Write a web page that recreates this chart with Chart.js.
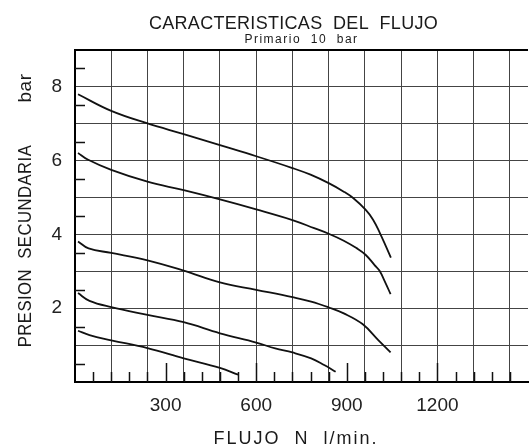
<!DOCTYPE html>
<html>
<head>
<meta charset="utf-8">
<script src="https://cdn.jsdelivr.net/npm/chart.js@4"></script>
<style>
  html, body { margin: 0; padding: 0; background: #fff; overflow: hidden; }
  #wrap { width: 540px; height: 448px; position: relative; }
</style>
</head>
<body>
<div id="wrap"><canvas id="chart"></canvas></div>
<script>
// Caudal (l/min) y presión secundaria (bar), una curva por ajuste
const flow1 = [10, 120, 240, 360, 480, 600, 720, 780, 840, 890, 922, 962, 987, 1010, 1030, 1046];
const pres1 = [7.80, 7.35, 7.01, 6.72, 6.42, 6.12, 5.80, 5.62, 5.39, 5.16, 4.98, 4.67, 4.40, 4.03, 3.67, 3.37];

const flow2 = [10, 42, 120, 240, 360, 480, 600, 720, 792, 840, 890, 932, 962, 992, 1008, 1028, 1045];
const pres2 = [6.21, 6.03, 5.75, 5.43, 5.20, 4.95, 4.68, 4.39, 4.17, 4.02, 3.83, 3.63, 3.45, 3.17, 3.02, 2.69, 2.38];

const flow3 = [10, 45, 120, 240, 360, 480, 600, 720, 782, 841, 890, 952, 1005, 1045];
const pres3 = [3.81, 3.62, 3.50, 3.30, 3.02, 2.70, 2.50, 2.30, 2.18, 2.02, 1.86, 1.57, 1.13, 0.80];

const flow4 = [10, 48, 120, 240, 360, 480, 600, 663, 720, 782, 825, 863];
const pres4 = [2.41, 2.20, 2.03, 1.82, 1.62, 1.32, 1.07, 0.91, 0.80, 0.64, 0.46, 0.28];

const flow5 = [10, 48, 120, 240, 360, 480, 540];
const pres5 = [1.39, 1.27, 1.13, 0.92, 0.64, 0.38, 0.20];

const xTickLabels = [300, 600, 900, 1200];
const yTickLabels = [2, 4, 6, 8];

const curves = [[flow1, pres1], [flow2, pres2], [flow3, pres3], [flow4, pres4], [flow5, pres5]]
  .map(([f, p]) => f.map((v, i) => ({ x: v, y: p[i] })));

const FONT = 'Liberation Sans, Arial, sans-serif';

// marcas interiores de los ejes y textos (título, subtítulo, títulos de ejes)
const frame = {
  id: 'frame',
  afterDraw(chart) {
    const { ctx, chartArea: a, scales: { x, y } } = chart;
    ctx.save();
    ctx.strokeStyle = '#111';
    ctx.lineWidth = 1.5;
    ctx.beginPath();
    for (let v = 60; v < 1500; v += 60) {
      const px = Math.round(x.getPixelForValue(v)) + 0.5;
      const len = v % 300 === 0 ? 19 : 10;
      ctx.moveTo(px, a.bottom);
      ctx.lineTo(px, a.bottom - len);
    }
    for (let v = 0.5; v < 9; v += 1) {
      const py = Math.round(y.getPixelForValue(v)) + 0.5;
      ctx.moveTo(a.left, py);
      ctx.lineTo(a.left + 10, py);
    }
    ctx.stroke();

    ctx.fillStyle = '#1a1a1a';
    ctx.textAlign = 'center';
    ctx.textBaseline = 'alphabetic';

    ctx.font = '18px ' + FONT;
    ctx.letterSpacing = '0.3px';
    ctx.fillText('CARACTERISTICAS  DEL  FLUJO', 293.5, 29);

    ctx.font = '12px ' + FONT;
    ctx.letterSpacing = '1.5px';
    ctx.fillText('Primario  10  bar', 301.5, 43);

    ctx.font = '18px ' + FONT;
    ctx.letterSpacing = '2px';
    ctx.fillText('FLUJO  N  l/min.', 296, 444);

    ctx.font = '19px ' + FONT;
    ctx.letterSpacing = '0.5px';
    ctx.save();
    ctx.translate(31, 246);
    ctx.rotate(-Math.PI / 2);
    ctx.scale(0.88, 1);
    ctx.fillText('PRESION  SECUNDARIA', 0, 0);
    ctx.restore();
    ctx.save();
    ctx.translate(31, 88);
    ctx.rotate(-Math.PI / 2);
    ctx.fillText('bar', 0, 0);
    ctx.restore();

    ctx.restore();
  }
};

const isLabel = (list, v) => list.some(t => Math.abs(t - v) < 1e-6);

new Chart(document.getElementById('chart'), {
  type: 'line',
  data: {
    datasets: curves.map(c => ({
      data: c,
      borderColor: '#111',
      borderWidth: 1.8,
      pointRadius: 0,
      tension: 0.4,
      fill: false
    }))
  },
  options: {
    responsive: true,
    maintainAspectRatio: false,
    animation: false,
    layout: { padding: { top: 50, right: 1.5, left: 0, bottom: 0 } },
    plugins: {
      legend: { display: false },
      title: { display: false },
      tooltip: { enabled: false }
    },
    scales: {
      x: {
        type: 'linear',
        min: 0,
        max: 1500,
        afterFit: s => { s.height = 66; },
        ticks: {
          stepSize: 60,
          autoSkip: false,
          maxRotation: 0,
          padding: 12,
          color: '#222',
          font: { family: FONT, size: 19 },
          callback: v => isLabel(xTickLabels, v) ? String(v) : ''
        },
        grid: {
          drawTicks: false,
          color: c => (c.tick && Math.round(c.tick.value) % 120 === 0) ? '#444' : 'transparent',
          lineWidth: 1
        },
        border: { color: '#000', width: 2 }
      },
      y: {
        min: 0,
        max: 9,
        afterFit: s => { s.width = 75; },
        ticks: {
          stepSize: 0.5,
          autoSkip: false,
          padding: 13,
          color: '#222',
          font: { family: FONT, size: 19 },
          callback: v => isLabel(yTickLabels, v) ? String(v) : ''
        },
        grid: {
          drawTicks: false,
          color: c => {
            if (!c.tick || !Number.isInteger(c.tick.value)) return 'transparent';
            return c.tick.value === 9 ? '#000' : '#444';
          },
          lineWidth: c => (c.tick && c.tick.value === 9) ? 2 : 1
        },
        border: { color: '#000', width: 2 }
      }
    }
  },
  plugins: [frame]
});
</script>
</body>
</html>
